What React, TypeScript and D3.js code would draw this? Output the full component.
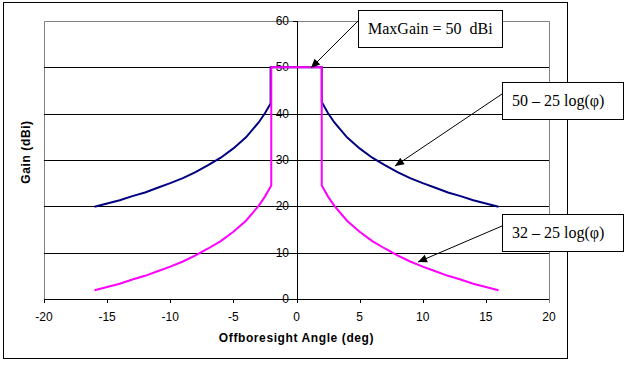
import React from "react";
import * as d3 from "d3";

// Offboresight angles (deg) and gains (dBi)
const blueAngles = [-16, -15, -14, -13, -12, -11, -10, -9, -8, -7, -6, -5, -4, -3, -2.5, -2.05, -2.05, 2.0, 2.0, 2.5, 3, 4, 5, 6, 7, 8, 9, 10, 11, 12, 13, 14, 15, 16];
const blueGain = [19.9, 20.6, 21.3, 22.2, 23.0, 24.0, 25.0, 26.1, 27.4, 28.9, 30.5, 32.5, 34.9, 38.1, 40.1, 42.2, 50, 50, 42.5, 40.1, 38.1, 34.9, 32.5, 30.5, 28.9, 27.4, 26.1, 25.0, 24.0, 23.0, 22.2, 21.3, 20.6, 19.9];

const magentaAngles = [-16, -15, -14, -13, -12, -11, -10, -9, -8, -7, -6, -5, -4, -3, -2.5, -2, -2, 2, 2, 2.5, 3, 4, 5, 6, 7, 8, 9, 10, 11, 12, 13, 14, 15, 16];
const magentaGain = [1.9, 2.6, 3.3, 4.2, 5.0, 6.0, 7.0, 8.1, 9.4, 10.9, 12.5, 14.5, 16.9, 20.1, 22.1, 24.5, 50, 50, 24.5, 22.1, 20.1, 16.9, 14.5, 12.5, 10.9, 9.4, 8.1, 7.0, 6.0, 5.0, 4.2, 3.3, 2.6, 1.9];

const xTicks = [-20, -15, -10, -5, 0, 5, 10, 15, 20];
const yTicks = [0, 10, 20, 30, 40, 50, 60];
const gridValues = [10, 20, 30, 40, 50];

const xTitle = "Offboresight Angle (deg)";
const yTitle = "Gain (dBi)";

const notes = [
  { text: "MaxGain = 50  dBi", box: [358, 10, 144, 37], from: [358, 21], to: [311, 68] },
  { text: "50 – 25 log(φ)", box: [502, 82, 121, 37], from: [502, 94], to: [395, 166] },
  { text: "32 – 25 log(φ)", box: [502, 214, 121, 37], from: [502, 226], to: [418, 262] },
];

export default function App() {
  const W = 630, H = 365;
  const x = d3.scaleLinear().domain([-20, 20]).range([44, 549]);
  const y = d3.scaleLinear().domain([0, 60]).range([299, 21]);
  const line = d3.line<[number, number]>().x(d => x(d[0])).y(d => y(d[1]));
  const blueData: [number, number][] = blueAngles.map((a, i) => [a, blueGain[i]]);
  const magData: [number, number][] = magentaAngles.map((a, i) => [a, magentaGain[i]]);
  const sans = "Arial, 'Liberation Sans', sans-serif";
  const serif = "'Times New Roman', 'Liberation Serif', serif";

  const arrowHead = (from: number[], to: number[]) => {
    const dx = to[0] - from[0], dy = to[1] - from[1];
    const len = Math.hypot(dx, dy);
    const ux = dx / len, uy = dy / len;
    const L = 9, Wd = 4;
    const bx = to[0] - ux * L, by = to[1] - uy * L;
    return `M${to[0]},${to[1]} L${bx - uy * Wd},${by + ux * Wd} L${bx + uy * Wd},${by - ux * Wd} Z`;
  };

  return (
    <svg width={W} height={H} style={{ position: "absolute", left: 0, top: 0, background: "#fff" }}>
      <rect x={3.5} y={2.5} width={564} height={356} fill="#fff" stroke="#000" strokeWidth={1} />
      {/* plot border */}
      <path d={`M${x(-20) + 0.5},${y(0)} V${y(60) + 0.5} H${x(20) + 0.5} V${y(0)}`} fill="none" stroke="#808080" strokeWidth={1} />
      {gridValues.map(v => (
        <line key={v} x1={x(-20)} x2={x(20)} y1={Math.round(y(v)) + 0.5} y2={Math.round(y(v)) + 0.5} stroke="#000" strokeWidth={1} />
      ))}
      {/* x axis */}
      <line x1={x(-20)} x2={x(20) + 1} y1={y(0) + 0.5} y2={y(0) + 0.5} stroke="#000" />
      {xTicks.map(t => (
        <g key={t}>
          <line x1={Math.round(x(t)) + 0.5} x2={Math.round(x(t)) + 0.5} y1={y(0)} y2={y(0) + 4} stroke={t === 20 ? "#808080" : "#000"} />
          <text x={x(t)} y={321} textAnchor="middle" fontFamily={sans} fontSize={12} fill="#000">{t}</text>
        </g>
      ))}
      {/* y axis at x=0 */}
      <line x1={Math.round(x(0)) + 0.5} x2={Math.round(x(0)) + 0.5} y1={y(60)} y2={y(0)} stroke="#000" />
      {yTicks.map(t => (
        <g key={t}>
          <line x1={Math.round(x(0)) - 4} x2={Math.round(x(0))} y1={Math.round(y(t)) + 0.5} y2={Math.round(y(t)) + 0.5} stroke="#000" />
          <text x={289} y={y(t) + 4} textAnchor="end" fontFamily={sans} fontSize={12} fill="#000">{t}</text>
        </g>
      ))}
      <path d={line(blueData) || ""} fill="none" stroke="#000080" strokeWidth={2} />
      <path d={line(magData) || ""} fill="none" stroke="#FF00FF" strokeWidth={2} />
      <text x={x(0)} y={342} textAnchor="middle" fontFamily={sans} fontSize={12} fontWeight="bold" letterSpacing={0.6} fill="#000">{xTitle}</text>
      <text transform={`translate(30,152) rotate(-90)`} textAnchor="middle" fontFamily={sans} fontSize={12} fontWeight="bold" letterSpacing={0.6} fill="#000">{yTitle}</text>
      {notes.map((n, i) => (
        <g key={i}>
          <line x1={n.from[0]} y1={n.from[1]} x2={n.to[0]} y2={n.to[1]} stroke="#000" strokeWidth={1} />
          <path d={arrowHead(n.from, n.to)} fill="#000" />
          <rect x={n.box[0] + 0.5} y={n.box[1] + 0.5} width={n.box[2]} height={n.box[3]} fill="#fff" stroke="#000" strokeWidth={1} />
          <text x={n.box[0] + 10} y={n.box[1] + 24} fontFamily={serif} fontSize={16} fill="#000" style={{ whiteSpace: "pre" }}>{n.text}</text>
        </g>
      ))}
    </svg>
  );
}
